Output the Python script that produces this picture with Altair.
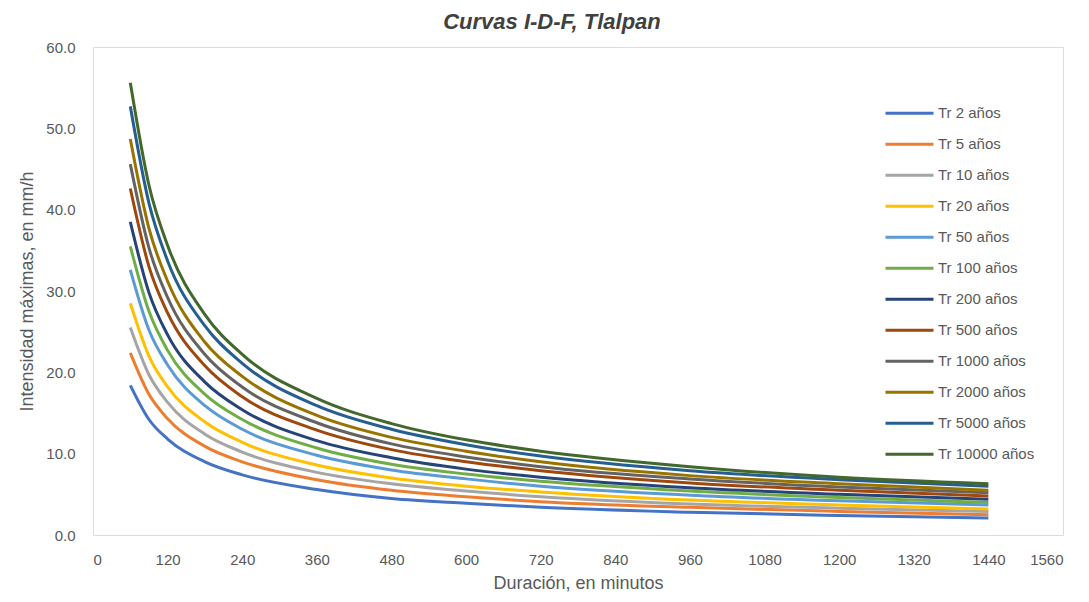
import altair as alt
import pandas as pd

durations = [60, 90, 120, 180, 240, 360, 480, 600, 720, 960, 1200, 1440]

series_names = ["Tr 2 años", "Tr 5 años", "Tr 10 años", "Tr 20 años", "Tr 50 años",
                "Tr 100 años", "Tr 200 años", "Tr 500 años", "Tr 1000 años",
                "Tr 2000 años", "Tr 5000 años", "Tr 10000 años"]

tr2 = [18.4, 14.2, 11.8, 9.0, 7.4, 5.6, 4.5, 3.9, 3.4, 2.8, 2.4, 2.1]
tr5 = [22.4, 17.3, 14.3, 10.9, 9.0, 6.8, 5.5, 4.7, 4.1, 3.4, 2.9, 2.5]
tr10 = [25.5, 19.7, 16.3, 12.4, 10.2, 7.7, 6.3, 5.4, 4.7, 3.8, 3.3, 2.9]
tr20 = [28.5, 22.0, 18.2, 13.9, 11.4, 8.6, 7.0, 6.0, 5.3, 4.3, 3.7, 3.2]
tr50 = [32.6, 25.2, 20.9, 15.9, 13.0, 9.8, 8.0, 6.9, 6.0, 4.9, 4.2, 3.7]
tr100 = [35.5, 27.5, 22.7, 17.3, 14.2, 10.7, 8.7, 7.5, 6.6, 5.4, 4.6, 4.0]
tr200 = [38.5, 29.8, 24.6, 18.8, 15.4, 11.6, 9.5, 8.1, 7.1, 5.8, 5.0, 4.4]
tr500 = [42.6, 33.0, 27.3, 20.8, 17.0, 12.9, 10.5, 9.0, 7.9, 6.4, 5.5, 4.8]
tr1000 = [45.6, 35.3, 29.2, 22.2, 18.2, 13.8, 11.2, 9.6, 8.4, 6.9, 5.9, 5.2]
tr2000 = [48.7, 37.7, 31.2, 23.7, 19.5, 14.7, 12.0, 10.3, 9.0, 7.3, 6.3, 5.5]
tr5000 = [52.7, 40.8, 33.7, 25.7, 21.1, 15.9, 13.0, 11.1, 9.7, 7.9, 6.8, 6.0]
tr10000 = [55.6, 43.0, 35.6, 27.1, 22.2, 16.8, 13.7, 11.7, 10.3, 8.4, 7.1, 6.3]

colors = ["#4472C4", "#ED7D31", "#A5A5A5", "#FFC000", "#5B9BD5", "#70AD47",
          "#264478", "#9E480E", "#636363", "#997300", "#255E91", "#43682B"]

all_series = [tr2, tr5, tr10, tr20, tr50, tr100, tr200, tr500, tr1000, tr2000, tr5000, tr10000]

rows = []
for name, vals in zip(series_names, all_series):
    for d, v in zip(durations, vals):
        rows.append({"serie": name, "duracion": d, "intensidad": v})
df = pd.DataFrame(rows)

x_ticks = list(range(0, 1561, 120))
y_ticks = [0, 10, 20, 30, 40, 50, 60]

FONT = "Liberation Sans"
GRAY = "#595959"

chart = alt.Chart(df).mark_line(strokeWidth=3, interpolate="monotone").encode(
    x=alt.X("duracion:Q",
            scale=alt.Scale(domain=[0, 1560], nice=False, zero=True),
            axis=alt.Axis(values=x_ticks, format="d", title="Duración, en minutos", grid=False,
                          ticks=False, labelPadding=17, labelFontSize=15, labelColor=GRAY,
                          titleFontSize=18, titleColor=GRAY, titleFontWeight="normal",
                          titlePadding=7, domain=False, labelFont=FONT, titleFont=FONT)),
    y=alt.Y("intensidad:Q",
            scale=alt.Scale(domain=[0, 60], nice=False),
            axis=alt.Axis(values=y_ticks, format=".1f", title="Intensidad máximas, en mm/h",
                          grid=False, ticks=False, labelPadding=18, labelFontSize=15,
                          labelColor=GRAY, titleFontSize=18, titleColor=GRAY,
                          titleFontWeight="normal", titlePadding=9, domain=False,
                          labelFont=FONT, titleFont=FONT)),
    color=alt.Color("serie:N",
                    scale=alt.Scale(domain=series_names, range=colors),
                    sort=series_names,
                    legend=alt.Legend(title=None, orient="none", legendX=791, legendY=51,
                                      symbolType="stroke", symbolSize=2304,
                                      symbolStrokeWidth=3, labelFontSize=15,
                                      labelColor=GRAY, labelFont=FONT, rowPadding=0,
                                      clipHeight=30.5, labelOffset=3, symbolOffset=0))
).properties(
    width=970,
    height=488,
    autosize=alt.AutoSizeParams(type="none"),
    padding={"left": 85, "top": 39, "right": 18, "bottom": 59},
    title=alt.Title("Curvas I-D-F, Tlalpan", fontSize=22, fontStyle="italic",
                    fontWeight="bold", color="#404040", font=FONT, offset=6,
                    anchor="middle", dx=-26)
).configure_view(
    fill="#D9D9D9", stroke="#C4C4C4", strokeWidth=1
).configure(background="white")

chart.save("out.html", embed_options={"renderer": "svg", "actions": False})
